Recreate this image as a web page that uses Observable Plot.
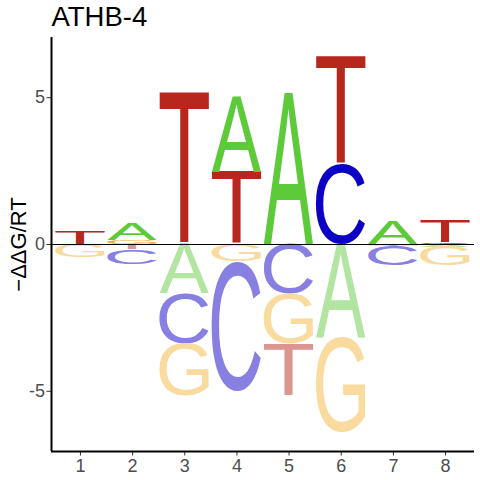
<!DOCTYPE html>
<html>
<head>
<meta charset="utf-8">
<script src="https://cdn.jsdelivr.net/npm/d3@7"></script>
<script src="https://cdn.jsdelivr.net/npm/@observablehq/plot@0.6"></script>
<style>
  html, body { margin: 0; padding: 0; background: #fff; }
  #chart svg { display: block; }
</style>
</head>
<body>
<div id="chart"></div>
<script>
// ---- data ----
const title = "ATHB-4";
const yLabel = "\u2212\u0394\u0394G/RT";
const positions = [1, 2, 3, 4, 5, 6, 7, 8];
const letters = ["A", "C", "G", "T"];
const valuesA = [0, 0.56, -1.68, 2.55, 5.15, -3.18, 0.794, -0.09];
const valuesC = [0, -0.51, -1.72, -4.40, -1.68, 2.75, -0.66, 0.045];
const valuesG = [-0.433, 0.12, -1.77, -0.60, -1.72, -3.22, 0, -0.65];
const valuesT = [0.453, -0.18, 5.19, 2.465, -1.77, 3.66, -0.06, 0.73];
const yTicks = [-5, 0, 5];
const xTicks = positions;
const yDomain = [-7.05, 7.05];
const xDomain = [0.445, 8.555];
const letterWidth = 0.95;

// colours: [positive, negative]
const letterColors = {
  A: ["#5DCA3A", "#B2E5A2"],
  C: ["#0B00C3", "#8780E2"],
  G: ["#F3AC35", "#F9DA9F"],
  T: ["#B8271E", "#DC9690"]
};

const valuesByLetter = {A: valuesA, C: valuesC, G: valuesG, T: valuesT};

// ---- build stacked rows (smallest magnitude nearest zero) ----
const rows = [];
positions.forEach((p, j) => {
  const items = letters.map(l => ({pos: p, letter: l, value: valuesByLetter[l][j]}))
    .filter(d => d.value !== 0);
  const pos = items.filter(d => d.value > 0).sort((a, b) => a.value - b.value);
  const neg = items.filter(d => d.value < 0).sort((a, b) => b.value - a.value);
  let acc = 0;
  for (const d of pos) { rows.push({...d, y1: acc, y2: acc + d.value}); acc += d.value; }
  acc = 0;
  for (const d of neg) { rows.push({...d, y1: acc, y2: acc + d.value}); acc += d.value; }
});

// ---- glyph ink metrics ----
const FONT = '"Liberation Sans", Arial, Helvetica, sans-serif';
const FS = 100;
const ctx = document.createElement("canvas").getContext("2d");
ctx.font = `${FS}px ${FONT}`;
ctx.textAlign = "left";
ctx.textBaseline = "alphabetic";
const inkCache = {};
function ink(ch) {
  if (!inkCache[ch]) {
    const m = ctx.measureText(ch);
    inkCache[ch] = {l: m.actualBoundingBoxLeft, r: m.actualBoundingBoxRight, a: m.actualBoundingBoxAscent, d: m.actualBoundingBoxDescent};
  }
  return inkCache[ch];
}

function renderLetters(index, scales, values) {
  const g = d3.create("svg:g").attr("text-anchor", "start");
  for (const i of index) {
    const d = rows[i];
    const xa = values.x1[i], xb = values.x2[i], ya = values.y1[i], yb = values.y2[i];
    const left = Math.min(xa, xb), right = Math.max(xa, xb);
    const top = Math.min(ya, yb), bot = Math.max(ya, yb);
    const m = ink(d.letter);
    const sx = (right - left) / (m.l + m.r);
    const sy = (bot - top) / (m.a + m.d);
    g.append("text")
      .attr("transform", `translate(${left},${top}) scale(${sx},${sy}) translate(${m.l},${m.a})`)
      .attr("text-anchor", "start")
      .attr("font-family", FONT)
      .attr("font-size", FS)
      .attr("fill", letterColors[d.letter][d.value > 0 ? 0 : 1])
      .text(d.letter);
  }
  return g.node();
}

const chart = Plot.plot({
  width: 480,
  height: 480,
  marginLeft: 51,
  marginRight: 6,
  marginTop: 37,
  marginBottom: 29,
  style: {fontFamily: FONT, background: "#fff"},
  x: {domain: xDomain},
  y: {domain: yDomain},
  marks: [
    Plot.rect(rows, {
      x1: d => d.pos - letterWidth / 2,
      x2: d => d.pos + letterWidth / 2,
      y1: "y1",
      y2: "y2",
      fill: d => letterColors[d.letter][d.value > 0 ? 0 : 1],
      render: renderLetters
    }),
    Plot.ruleY([0], {stroke: "#000", strokeWidth: 1.1}),
    Plot.axisY({ticks: yTicks, tickSize: 4.5, tickPadding: 2, fontSize: 18, stroke: "#333", fill: "#4D4D4D", tickFormat: d => String(d), label: null}),
    Plot.axisX({ticks: xTicks, tickSize: 4.5, tickPadding: 3, fontSize: 18, stroke: "#333", fill: "#4D4D4D", tickFormat: d => String(d), label: null}),
    Plot.ruleX([xDomain[0]], {stroke: "#000", strokeWidth: 2}),
    Plot.ruleY([yDomain[0]], {stroke: "#000", strokeWidth: 2}),
    Plot.text([title], {frameAnchor: "top-left", textAnchor: "start", lineAnchor: "bottom", dy: -11.5, fontSize: 27.5, fill: "#000"}),
    Plot.text([yLabel], {frameAnchor: "left", textAnchor: "middle", rotate: -90, dx: -33, fontSize: 22, fill: "#000"})
  ]
});
document.getElementById("chart").appendChild(chart);
</script>
</body>
</html>
